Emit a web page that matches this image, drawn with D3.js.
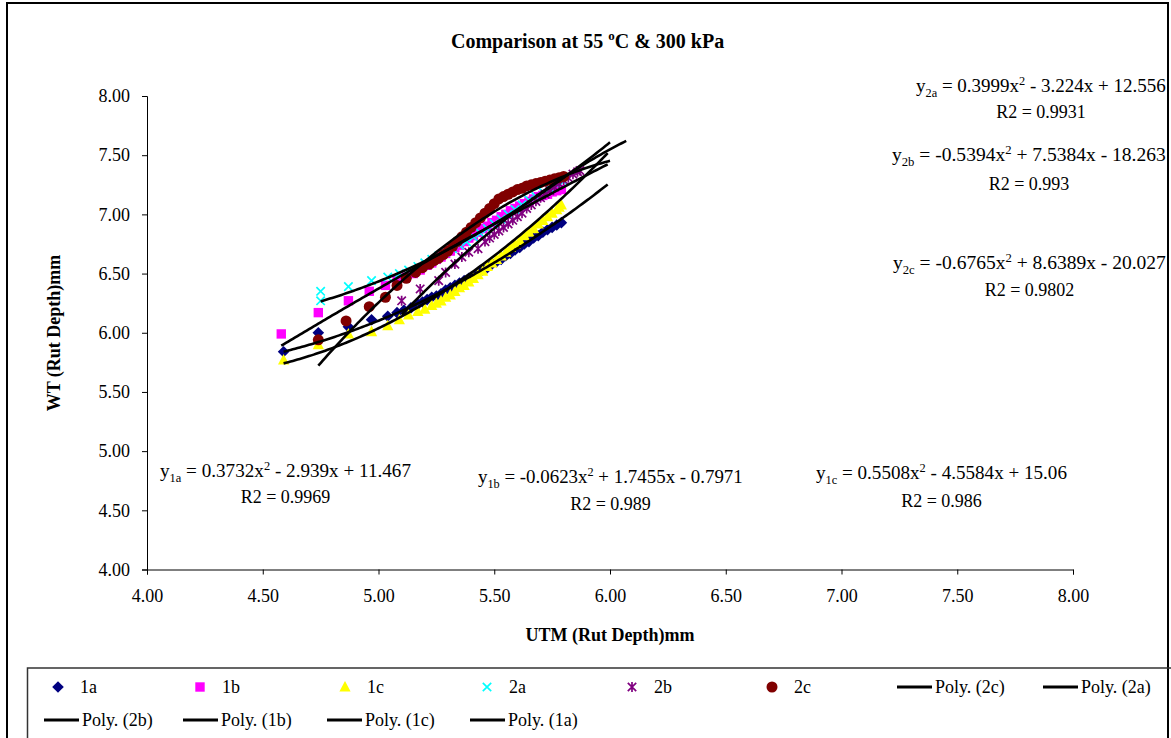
<html>
<head>
<script src="https://cdnjs.cloudflare.com/ajax/libs/d3/7.8.5/d3.min.js"></script>
<style>
  body { margin: 0; background: #fff; }
  text { font-family: "Liberation Serif", "Times New Roman", serif; fill: #000; }
</style>
</head>
<body>
<svg id="chart" width="1171" height="738"></svg>
<script>
// ---- data ----
var xTicks = [4.00, 4.50, 5.00, 5.50, 6.00, 6.50, 7.00, 7.50, 8.00];
var yTicks = [4.00, 4.50, 5.00, 5.50, 6.00, 6.50, 7.00, 7.50, 8.00];

var s1a = [[4.59,5.84],[4.74,6.00],[4.87,6.05],[4.97,6.11],[5.04,6.14],[5.08,6.17],[5.11,6.19],[5.14,6.21],
           [5.17,6.24],[5.19,6.26],[5.21,6.28],[5.23,6.30],[5.25,6.31],[5.27,6.33],[5.29,6.36],[5.31,6.38],
           [5.33,6.40],[5.35,6.42],[5.37,6.44],[5.39,6.46],[5.41,6.48],[5.43,6.51],[5.45,6.53],[5.47,6.55],
           [5.49,6.58],[5.51,6.60],[5.53,6.62],[5.55,6.65],[5.57,6.67],[5.59,6.70],[5.61,6.72],[5.63,6.75],
           [5.65,6.77],[5.67,6.80],[5.69,6.82],[5.71,6.85],[5.73,6.87],[5.75,6.89],[5.77,6.91],[5.79,6.93]];
var s1b = [[4.58,5.99],[4.74,6.17],[4.87,6.27],[4.96,6.35],[5.03,6.40],[5.08,6.44],[5.12,6.47],[5.15,6.50],
           [5.18,6.53],[5.21,6.57],[5.23,6.59],[5.25,6.62],[5.27,6.64],[5.29,6.67],[5.31,6.69],[5.33,6.72],
           [5.35,6.74],[5.37,6.77],[5.39,6.80],[5.41,6.82],[5.43,6.85],[5.45,6.88],[5.47,6.90],[5.49,6.93],
           [5.51,6.95],[5.53,6.98],[5.55,7.00],[5.57,7.03],[5.59,7.05],[5.61,7.07],[5.63,7.09],[5.65,7.11],
           [5.67,7.13],[5.69,7.15],[5.71,7.16],[5.73,7.17],[5.75,7.19],[5.77,7.20],[5.79,7.21]];
var s1c = [[4.59,5.77],[4.74,5.90],[4.87,5.99],[4.97,6.01],[5.04,6.06],[5.09,6.11],[5.13,6.15],[5.17,6.18],
           [5.20,6.20],[5.23,6.23],[5.25,6.25],[5.27,6.27],[5.29,6.30],[5.31,6.32],[5.33,6.35],[5.35,6.38],
           [5.37,6.40],[5.39,6.43],[5.41,6.46],[5.43,6.49],[5.45,6.52],[5.47,6.56],[5.49,6.59],[5.51,6.62],
           [5.53,6.65],[5.55,6.68],[5.57,6.72],[5.59,6.75],[5.61,6.78],[5.63,6.82],[5.65,6.85],[5.67,6.88],
           [5.69,6.92],[5.71,6.95],[5.73,6.98],[5.75,7.01],[5.77,7.04],[5.78,7.06],[5.79,7.08]];
var s2a = [[4.75,6.35],[4.75,6.27],[4.87,6.39],[4.97,6.44],[5.04,6.47],[5.09,6.50],[5.13,6.53],[5.17,6.56],
           [5.20,6.59],[5.23,6.62],[5.26,6.65],[5.29,6.68],[5.32,6.71],[5.35,6.74],[5.38,6.77],[5.41,6.81],
           [5.44,6.84],[5.47,6.88],[5.50,6.92],[5.53,6.96],[5.56,7.00],[5.59,7.04],[5.62,7.08],[5.65,7.12],
           [5.68,7.15],[5.71,7.19],[5.74,7.22],[5.77,7.25],[5.80,7.28]];
var s2b = [[5.10,6.27],[5.18,6.37],[5.26,6.44],[5.29,6.51],[5.33,6.58],[5.36,6.64],[5.39,6.68],[5.43,6.71],
           [5.46,6.77],[5.48,6.80],[5.50,6.83],[5.52,6.86],[5.54,6.89],[5.56,6.92],[5.58,6.95],[5.60,6.98],
           [5.62,7.01],[5.64,7.05],[5.66,7.08],[5.68,7.11],[5.70,7.14],[5.72,7.17],[5.74,7.20],[5.76,7.23],
           [5.78,7.26],[5.80,7.29],[5.82,7.31],[5.84,7.34],[5.86,7.36],[5.87,7.37]];
var s2c = [[4.74,5.94],[4.86,6.10],[4.96,6.22],[5.03,6.30],[5.08,6.40],[5.12,6.46],[5.16,6.51],[5.19,6.55],
           [5.22,6.58],[5.24,6.61],[5.26,6.63],[5.28,6.66],[5.30,6.69],[5.32,6.73],[5.34,6.77],[5.36,6.81],
           [5.38,6.85],[5.40,6.89],[5.42,6.93],[5.44,6.97],[5.46,7.01],[5.48,7.05],[5.50,7.09],[5.52,7.13],
           [5.54,7.15],[5.56,7.17],[5.58,7.19],[5.60,7.21],[5.62,7.22],[5.64,7.24],[5.66,7.25],[5.68,7.26],
           [5.70,7.27],[5.72,7.28],[5.74,7.29],[5.76,7.30],[5.78,7.31],[5.80,7.32]];

var seriesNames  = ['1a', '1b', '1c', '2a', '2b', '2c'];
var seriesData   = [s1a, s1b, s1c, s2a, s2b, s2c];
var seriesColors = ['#000080', '#ff00ff', '#ffff00', '#00ffff', '#800080', '#800000'];
var seriesShapes = ['diamond', 'square', 'triangle', 'cross', 'star', 'circle'];

// polynomial trendlines y = a x^2 + b x + c
var fitA  = [0.3732, -0.0623, 0.5508, 0.3999, -0.5394, -0.6765];
var fitB  = [-2.939, 1.7455, -4.5584, -3.224, 7.5384, 8.6389];
var fitC  = [11.467, -0.7971, 15.06, 12.556, -18.263, -20.027];
var fitR2 = ['0.9969', '0.989', '0.986', '0.9931', '0.993', '0.9802'];
var fitForward = 0.2;

var legendNames = ['1a', '1b', '1c', '2a', '2b', '2c', 'Poly. (2c)', 'Poly. (2a)',
                   'Poly. (2b)', 'Poly. (1b)', 'Poly. (1c)', 'Poly. (1a)'];

// ---- layout ----
var svg = d3.select('#chart');
var x = d3.scaleLinear().domain([4, 8]).range([147, 1073]);
var y = d3.scaleLinear().domain([4, 8]).range([569.5, 96]);

// outer frame and legend box
svg.append('rect').attr('x', 7).attr('y', 3).attr('width', 1161).attr('height', 760)
   .attr('fill', 'none').attr('stroke', '#000').attr('stroke-width', 2);
svg.append('rect').attr('x', 27.5).attr('y', 668).attr('width', 1160).attr('height', 100)
   .attr('fill', 'none').attr('stroke', '#333').attr('stroke-width', 1.5);

function shapePath(shape) {
    switch (shape) {
        case 'diamond':  return 'M0,-5.8L5.8,0L0,5.8L-5.8,0Z';
        case 'square':   return 'M-4.7,-4.7H4.7V4.7H-4.7Z';
        case 'triangle': return 'M0,-6L5.6,4.6L-5.6,4.6Z';
        case 'cross':    return 'M-4.2,-4.2L4.2,4.2M-4.2,4.2L4.2,-4.2';
        case 'star':     return 'M-4.2,-4.2L4.2,4.2M-4.2,4.2L4.2,-4.2M0,-5V5';
        default:         return d3.symbol(d3.symbolCircle, 95)();
    }
}
function styleMarker(sel, i) {
    var open = seriesShapes[i] === 'cross' || seriesShapes[i] === 'star';
    sel.attr('d', shapePath(seriesShapes[i]))
       .attr('fill', open ? 'none' : seriesColors[i])
       .attr('stroke', open ? seriesColors[i] : 'none')
       .attr('stroke-width', open ? 1.7 : 0);
}

// axes
var xAxis = svg.append('g').attr('transform', 'translate(0,569.5)')
    .call(d3.axisBottom(x).tickValues(xTicks).tickFormat(d3.format('.2f')).tickSize(5).tickPadding(15));
var yAxis = svg.append('g').attr('transform', 'translate(147,0)')
    .call(d3.axisLeft(y).tickValues(yTicks).tickFormat(d3.format('.2f')).tickSize(5).tickPadding(12));
[xAxis, yAxis].forEach(function (g) {
    g.selectAll('path, line').attr('stroke', '#000').attr('stroke-width', 1);
    g.selectAll('text').attr('font-size', 18).attr('font-family', '"Liberation Serif", serif');
});

// markers
seriesData.forEach(function (data, i) {
    svg.append('g').selectAll('path').data(data).enter().append('path')
       .attr('transform', function (d) { return 'translate(' + x(d[0]) + ',' + y(d[1]) + ')'; })
       .call(styleMarker, i);
});

// trendlines
var line = d3.line().x(function (d) { return x(d[0]); }).y(function (d) { return y(d[1]); });
[5, 3, 4, 1, 2, 0].forEach(function (i) {
    var xs = seriesData[i].map(function (d) { return d[0]; });
    var x0 = d3.min(xs), x1 = d3.max(xs) + fitForward;
    var pts = d3.range(x0, x1 + 1e-9, 0.01).map(function (v) {
        return [v, fitA[i] * v * v + fitB[i] * v + fitC[i]];
    });
    svg.append('path').attr('d', line(pts)).attr('fill', 'none')
       .attr('stroke', '#000').attr('stroke-width', 2.6);
});

// rich text helper: parts = [[text, 'sub'|'sup'|null], ...]
function richText(g, parts, size) {
    var t = g.append('text').attr('font-size', size);
    var shift = 0;
    parts.forEach(function (p) {
        var target = p[1] === 'sub' ? size * 0.25 : p[1] === 'sup' ? -size * 0.4 : 0;
        t.append('tspan').attr('dy', target - shift)
         .attr('font-size', p[1] ? size * 0.65 : size)
         .text(p[0]);
        shift = target;
    });
    return t;
}
function signed(v) { return (v < 0 ? ' - ' : ' + ') + Math.abs(v); }

// equation labels
var eqPos = {
    '1a': { x: 160,  y: 477, anchor: 'start', w: 251, r2y: 503 },
    '1b': { x: 478,  y: 483, anchor: 'start', w: 265, r2y: 510 },
    '1c': { x: 816,  y: 479, anchor: 'start', w: 251, r2y: 507 },
    '2a': { x: 1166, y: 92,  anchor: 'end',   w: 250, r2y: 118 },
    '2b': { x: 1166, y: 161, anchor: 'end',   w: 274, r2y: 190 },
    '2c': { x: 1166, y: 269, anchor: 'end',   w: 273, r2y: 296 }
};
seriesNames.forEach(function (name, i) {
    var p = eqPos[name];
    var g = svg.append('g');
    var t = richText(g, [['y', null], [name, 'sub'], [' = ' + fitA[i] + 'x', null], ['2', 'sup'],
                         [signed(fitB[i]) + 'x' + signed(fitC[i]), null]], 18);
    var w0 = t.node().getComputedTextLength();
    var sx = p.w / w0;
    var left = p.anchor === 'end' ? p.x - p.w : p.x;
    g.attr('transform', 'translate(' + left + ',' + p.y + ') scale(' + sx + ',1)');
    svg.append('text').attr('x', left + p.w / 2).attr('y', p.r2y).attr('font-size', 18)
       .attr('text-anchor', 'middle').text('R2 = ' + fitR2[i]);
});

// title and axis titles
var tg = svg.append('g').attr('transform', 'translate(451,48)');
richText(tg, [['Comparison at 55 ', null], ['o', 'sup'], ['C & 300 kPa', null]], 20)
    .attr('font-weight', 'bold');
svg.append('text').attr('x', 610).attr('y', 641).attr('text-anchor', 'middle')
   .attr('font-size', 18).attr('font-weight', 'bold').text('UTM (Rut Depth)mm');
svg.append('text').attr('transform', 'translate(60,333) rotate(-90)').attr('text-anchor', 'middle')
   .attr('font-size', 18).attr('font-weight', 'bold').text('WT (Rut Depth)mm');

// legend
var legendPos = [
    [58, 687], [200, 687], [345, 687], [487, 687], [632, 687], [772, 687],
    [897, 687], [1043, 687], [44, 720], [183, 720], [327, 720], [470, 720]
];
legendNames.forEach(function (name, k) {
    var px = legendPos[k][0], py = legendPos[k][1];
    var si = seriesNames.indexOf(name);
    var tx;
    if (si >= 0) {
        svg.append('path').attr('transform', 'translate(' + px + ',' + py + ')').call(styleMarker, si);
        tx = px + 22;
    } else {
        svg.append('line').attr('x1', px).attr('x2', px + 35).attr('y1', py).attr('y2', py)
           .attr('stroke', '#000').attr('stroke-width', 3);
        tx = px + 38;
    }
    svg.append('text').attr('x', tx).attr('y', py + 6).attr('font-size', 18).text(name);
});
</script>
</body>
</html>
